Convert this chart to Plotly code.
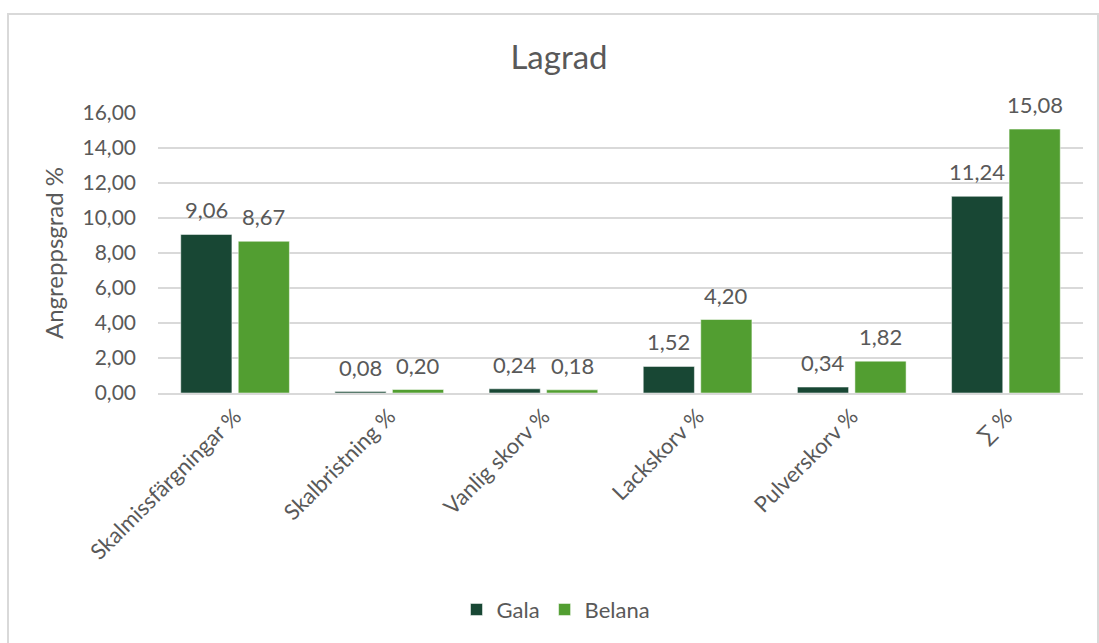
import plotly.graph_objects as go

# Attack levels on stored fruit, by damage type and variety
categories = [
    "Skalmissfärgningar %",
    "Skalbristning %",
    "Vanlig skorv %",
    "Lackskorv %",
    "Pulverskorv %",
    "∑ %",
]
gala = [9.06, 0.08, 0.24, 1.52, 0.34, 11.24]
belana = [8.67, 0.20, 0.18, 4.20, 1.82, 15.08]
y_ticks = [0, 2, 4, 6, 8, 10, 12, 14, 16]

FONT = "Lato"
TEXT = "#595959"
GRID = "#d9d9d9"
BARGAP = 0.254

W, H = 1099, 643
L, R, T, B = 158, 16, 113, 247
PW, PH = W - L - R, H - T - B


def px_x(p):
    return (p - L) / PW


def px_y(p):
    return (H - B - p) / PH


series = [("Gala", gala, "#184734"), ("Belana", belana, "#529e31")]

fig = go.Figure()
for name, vals, color in series:
    fig.add_trace(go.Bar(
        name=name,
        x=categories,
        y=vals,
        marker=dict(color=color, line=dict(color="rgba(255,255,255,0.5)", width=1)),
    ))

# value labels above each bar, offset to the bar's slot within the group
slot = (1 - BARGAP) / len(series)
annotations = []
for k, (name, vals, color) in enumerate(series):
    shift = (k - (len(series) - 1) / 2) * slot
    for i, v in enumerate(vals):
        annotations.append(dict(
            x=i + shift, y=v, xref="x", yref="y",
            text=f"{v:.2f}".replace(".", ","),
            showarrow=False, yanchor="bottom", yshift=9,
            font=dict(family=FONT, size=22, color=TEXT),
        ))

fig.update_layout(
    width=W,
    height=H,
    margin=dict(l=L, r=R, t=T, b=B),
    paper_bgcolor="white",
    plot_bgcolor="white",
    separators=", ",
    barmode="group",
    bargap=BARGAP,
    bargroupgap=0.11,
    font=dict(family=FONT, size=22, color=TEXT),
    title=dict(
        text="Lagrad",
        font=dict(family=FONT, size=33, color=TEXT),
        x=px_x(559), xref="paper", xanchor="center",
        y=1 - 57 / H, yref="container", yanchor="middle",
    ),
    xaxis=dict(
        showgrid=False,
        showline=True,
        linecolor=GRID,
        linewidth=1.5,
        ticks="",
        tickangle=-45,
        tickfont=dict(family=FONT, size=22, color=TEXT),
    ),
    yaxis=dict(
        range=[0, 16],
        tickvals=y_ticks,
        tickformat=".2f",
        showgrid=True,
        gridcolor=GRID,
        gridwidth=1.5,
        zeroline=False,
        showline=False,
        ticks="",
        ticklabelstandoff=21,
        tickfont=dict(family=FONT, size=21, color=TEXT),
        title=dict(text="Angreppsgrad %", font=dict(family=FONT, size=24, color=TEXT), standoff=12),
    ),
    legend=dict(
        orientation="h",
        x=px_x(556), xanchor="center",
        y=px_y(615), yanchor="middle",
        font=dict(family=FONT, size=22, color=TEXT),
        itemwidth=30,
        traceorder="normal",
    ),
    annotations=annotations,
    shapes=[
        dict(
            type="rect", xref="paper", yref="paper",
            x0=px_x(8), x1=px_x(1098), y0=px_y(660), y1=px_y(13),
            line=dict(color="#d9d9d9", width=2), layer="below",
        )
    ],
)

fig.write_html("out.html")
